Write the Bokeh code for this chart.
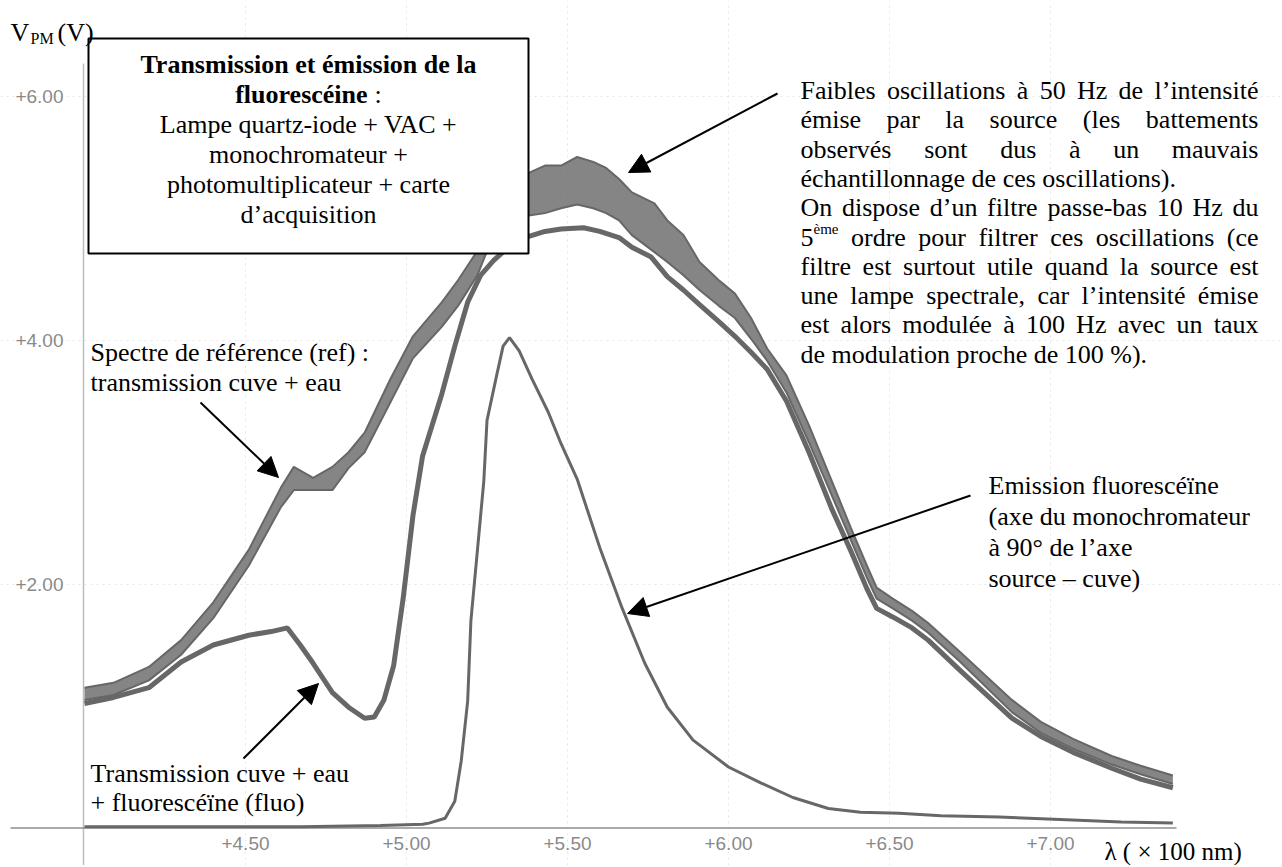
from bokeh.plotting import figure
from bokeh.models import (Range1d, LinearAxis, FixedTicker, CustomJSTickFormatter, Grid,
                          Label, Arrow, NormalHead, BoxAnnotation)
from bokeh.embed import file_html
from bokeh.resources import INLINE

# ---------------- data ----------------
# wavelength in units of 100 nm, voltage V_PM in volts
ref_x = [4.00, 4.09, 4.20, 4.30, 4.40, 4.51, 4.61, 4.65, 4.71, 4.77, 4.82, 4.87, 4.95, 5.02, 5.11,
         5.16, 5.22, 5.27, 5.32, 5.38, 5.43, 5.48, 5.53, 5.58, 5.62, 5.66, 5.70, 5.77, 5.81, 5.86,
         5.91, 5.97, 6.02, 6.07, 6.12, 6.18, 6.25, 6.32, 6.38, 6.43, 6.46, 6.51, 6.57, 6.62, 6.72,
         6.88, 6.97, 7.07, 7.19, 7.28, 7.38]
# upper / lower envelope of the beating reference trace
ref_top = [1.15, 1.19, 1.32, 1.54, 1.85, 2.28, 2.79, 2.96, 2.87, 2.96, 3.08, 3.24, 3.68, 4.03, 4.31,
           4.49, 4.73, 5.10, 5.27, 5.37, 5.43, 5.43, 5.50, 5.46, 5.41, 5.32, 5.21, 5.12, 4.98, 4.86,
           4.64, 4.49, 4.38, 4.18, 3.93, 3.71, 3.30, 2.85, 2.46, 2.15, 1.97, 1.88, 1.78, 1.68, 1.44,
           1.05, 0.87, 0.73, 0.59, 0.51, 0.43]
ref_bot = [1.05, 1.09, 1.21, 1.42, 1.72, 2.15, 2.63, 2.77, 2.77, 2.77, 2.95, 3.08, 3.49, 3.85, 4.11,
           4.28, 4.53, 4.86, 4.94, 5.02, 5.04, 5.08, 5.11, 5.08, 5.04, 4.98, 4.86, 4.72, 4.64, 4.53,
           4.41, 4.28, 4.18, 4.01, 3.83, 3.57, 3.16, 2.73, 2.36, 2.05, 1.88, 1.80, 1.70, 1.60, 1.36,
           0.95, 0.78, 0.65, 0.52, 0.44, 0.36]

fluo_x = [4.00, 4.09, 4.20, 4.30, 4.40, 4.51, 4.58, 4.63, 4.67, 4.71, 4.77, 4.82, 4.87, 4.90, 4.93,
          4.96, 4.99, 5.02, 5.05, 5.11, 5.15, 5.19, 5.23, 5.27, 5.32, 5.38, 5.43, 5.48, 5.55, 5.60,
          5.66, 5.70, 5.76, 5.81, 5.86, 5.91, 5.97, 6.02, 6.07, 6.12, 6.18, 6.25, 6.32, 6.38, 6.43,
          6.46, 6.51, 6.57, 6.62, 6.72, 6.88, 6.97, 7.07, 7.19, 7.28, 7.38]
fluo_y = [1.02, 1.07, 1.15, 1.36, 1.50, 1.58, 1.61, 1.64, 1.50, 1.35, 1.11, 0.99, 0.90, 0.91, 1.05,
          1.33, 1.89, 2.56, 3.05, 3.56, 3.95, 4.31, 4.53, 4.65, 4.77, 4.85, 4.89, 4.91, 4.92, 4.89,
          4.84, 4.76, 4.68, 4.52, 4.41, 4.29, 4.15, 4.03, 3.90, 3.76, 3.50, 3.08, 2.62, 2.27, 1.96,
          1.80, 1.73, 1.64, 1.54, 1.29, 0.90, 0.75, 0.62, 0.49, 0.40, 0.33]

em_x = [4.00, 4.36, 4.67, 4.92, 5.05, 5.07, 5.12, 5.15, 5.17, 5.19, 5.20, 5.22, 5.24, 5.25, 5.28,
        5.30, 5.32, 5.35, 5.39, 5.44, 5.48, 5.53, 5.60, 5.67, 5.74, 5.81, 5.89, 6.00, 6.10, 6.20,
        6.31, 6.41, 6.53, 6.66, 6.84, 7.03, 7.22, 7.38]
em_y = [0.01, 0.01, 0.01, 0.02, 0.03, 0.04, 0.08, 0.22, 0.55, 1.04, 1.70, 2.27, 2.84, 3.34, 3.71,
        3.95, 4.02, 3.91, 3.68, 3.41, 3.15, 2.86, 2.30, 1.80, 1.35, 0.99, 0.72, 0.50, 0.37, 0.25,
        0.16, 0.13, 0.12, 0.10, 0.09, 0.07, 0.05, 0.04]

x_ticks = [4.5, 5.0, 5.5, 6.0, 6.5, 7.0]
y_ticks = [2.0, 4.0, 6.0]

# ---------------- layout helpers (page pixel -> data) ----------------
W, H = 1280, 865
def X(px):
    return 4.5 + (px - 245) / 322.0
def Y(py):
    return (827.5 - py) / 122.0

SERIF = "Liberation Serif"
FS = 26
CURVE = "#676767"

p = figure(width=W, height=H, x_range=Range1d(X(0), X(W)), y_range=Range1d(Y(H), Y(0)),
           output_backend="svg", toolbar_location=None, x_axis_type=None, y_axis_type=None,
           min_border=0)
p.outline_line_color = None
p.background_fill_color = "white"
p.border_fill_color = "white"

fmt = CustomJSTickFormatter(code="return '+' + tick.toFixed(2);")

xaxis = LinearAxis(fixed_location=0, ticker=FixedTicker(ticks=x_ticks), formatter=fmt)
yaxis = LinearAxis(fixed_location=X(83), ticker=FixedTicker(ticks=y_ticks), formatter=fmt)
for ax, st in ((xaxis, 9), (yaxis, 20)):
    ax.axis_line_color = None
    ax.major_tick_in = 0
    ax.major_tick_out = 0
    ax.minor_tick_line_color = None
    ax.major_label_text_font = "Liberation Sans"
    ax.major_label_text_font_size = "19px"
    ax.major_label_text_color = "#8a8a8a"
    ax.major_label_standoff = st
p.add_layout(xaxis, "below")
p.add_layout(yaxis, "left")

p.add_layout(Grid(dimension=0, ticker=xaxis.ticker, grid_line_color="#e6e6e6",
                  grid_line_dash="2 4", grid_line_width=1))
p.add_layout(Grid(dimension=1, ticker=yaxis.ticker, grid_line_color="#e6e6e6",
                  grid_line_dash="2 4", grid_line_width=1))

# axis lines
p.segment(x0=[X(83)], y0=[Y(870)], x1=[X(83)], y1=[Y(63)], line_color="#bdbdbd", line_width=1.5)
p.segment(x0=[X(10)], y0=[0], x1=[X(1176)], y1=[0], line_color="#8f8f8f", line_width=1.5)

# curves
p.varea(x=ref_x, y1=ref_bot, y2=ref_top, fill_color=CURVE, fill_alpha=0.8)
p.line(ref_x, ref_top, line_color=CURVE, line_width=2)
p.line(ref_x, ref_bot, line_color=CURVE, line_width=2)
p.line(fluo_x, fluo_y, line_color=CURVE, line_width=5)
p.line(em_x, em_y, line_color=CURVE, line_width=3)

# ---------------- annotations ----------------
def lab(txt, px, py, size=FS, align="left", bold=False, color="black", font=SERIF):
    p.add_layout(Label(x=X(px), y=Y(py), text=txt, text_font=font,
                       text_font_size=f"{size}px", text_align=align, text_baseline="middle",
                       text_font_style="bold" if bold else "normal", text_color=color))

def arrow(x0, y0, x1, y1):
    p.add_layout(Arrow(end=NormalHead(size=20, fill_color="black", line_color="black",
                                      line_width=1),
                       x_start=X(x0), y_start=Y(y0), x_end=X(x1), y_end=Y(y1),
                       line_color="black", line_width=2))

# title box
p.add_layout(BoxAnnotation(left=X(88), right=X(528), top=Y(38), bottom=Y(253),
                           fill_color="white", fill_alpha=1.0, line_color="black",
                           line_alpha=1.0, line_width=2))

CW = {' ': 0.25, 'a': 0.444, 'b': 0.5, 'c': 0.444, 'd': 0.5, 'e': 0.444, 'f': 0.333, 'g': 0.5,
      'h': 0.5, 'i': 0.278, 'j': 0.278, 'k': 0.5, 'l': 0.278, 'm': 0.778, 'n': 0.5, 'o': 0.5,
      'p': 0.5, 'q': 0.5, 'r': 0.333, 's': 0.389, 't': 0.278, 'u': 0.5, 'v': 0.5, 'w': 0.722,
      'x': 0.5, 'y': 0.5, 'z': 0.444, 'é': 0.444, 'è': 0.444, 'à': 0.444, 'ï': 0.278,
      '.': 0.25, ',': 0.25, '(': 0.333, ')': 0.333, '%': 0.833, '’': 0.333, '-': 0.333,
      'H': 0.722, 'F': 0.556, 'O': 0.722, 'E': 0.611, ':': 0.278, '°': 0.4, '–': 0.5}
CWB = {'f': 0.333, 'l': 0.278, 'u': 0.556, 'o': 0.5, 'r': 0.444, 'e': 0.444, 's': 0.389,
       'c': 0.444, 'é': 0.444, 'i': 0.278, 'n': 0.556}

def tw(s, fs=FS, table=CW):
    return fs * sum(table.get(c, 0.5) for c in s)

lab("Transmission et émission de la", 308, 64, bold=True, align="center")
w_fl = tw("fluorescéine", table=CWB)
w_all = w_fl + tw(" :")
x_fl = 308 - w_all / 2
lab("fluorescéine", x_fl, 94, bold=True)
lab(":", x_fl + w_fl + tw(" "), 94)
lab("Lampe quartz-iode + VAC +", 308, 124, align="center")
lab("monochromateur +", 308, 154, align="center")
lab("photomultiplicateur + carte", 308, 184, align="center")
lab("d’acquisition", 308, 214, align="center")

# y axis title
lab("V", 10, 32)
lab("PM", 30, 38, size=16)
lab("(V)", 57, 32)
# x axis title
lab("λ ( × 100 nm)", 1104, 851, size=25)

# reference annotation
lab("Spectre de référence (ref) :", 90, 352)
lab("transmission cuve + eau", 90, 382)
arrow(200, 402, 278, 477)

# fluo annotation
lab("Transmission cuve + eau", 90, 773)
lab("+ fluorescéïne (fluo)", 90, 802)
arrow(243, 758, 318, 683)

# emission annotation
lab("Emission fluorescéïne", 988, 485)
lab("(axe du monochromateur", 988, 516)
lab("à 90° de l’axe", 988, 547)
lab("source – cuve)", 988, 578)
arrow(970, 495, 627, 613)

# justified paragraph (top right)
right_lines = [
    ("Faibles oscillations à 50 Hz de l’intensité", True),
    ("émise par la source (les battements", True),
    ("observés sont dus à un mauvais", True),
    ("échantillonnage de ces oscillations).", False),
    ("On dispose d’un filtre passe-bas 10 Hz du", True),
    ("5ème ordre pour filtrer ces oscillations (ce", True),
    ("filtre est surtout utile quand la source est", True),
    ("une lampe spectrale, car l’intensité émise", True),
    ("est alors modulée à 100 Hz avec un taux", True),
    ("de modulation proche de 100 %).", False),
]
BL, BR = 800, 1258
def word_w(w):
    if w == "5ème":
        return tw("5") + tw("ème", 15)
    return tw(w)

for i, (line, just) in enumerate(right_lines):
    py = 90 + 29.3 * i
    if not just:
        lab(line, BL, py)
        continue
    words = line.split(" ")
    widths = [word_w(w) for w in words]
    gap = (BR - BL - sum(widths)) / (len(words) - 1)
    xx = BL
    for w, wd in zip(words, widths):
        if w == "5ème":
            lab("5", xx, py)
            lab("ème", xx + tw("5"), py - 8, size=15)
        else:
            lab(w, xx, py)
        xx += wd + gap
arrow(777, 93, 628, 172)

open("out.html", "w").write(file_html(p, INLINE))
